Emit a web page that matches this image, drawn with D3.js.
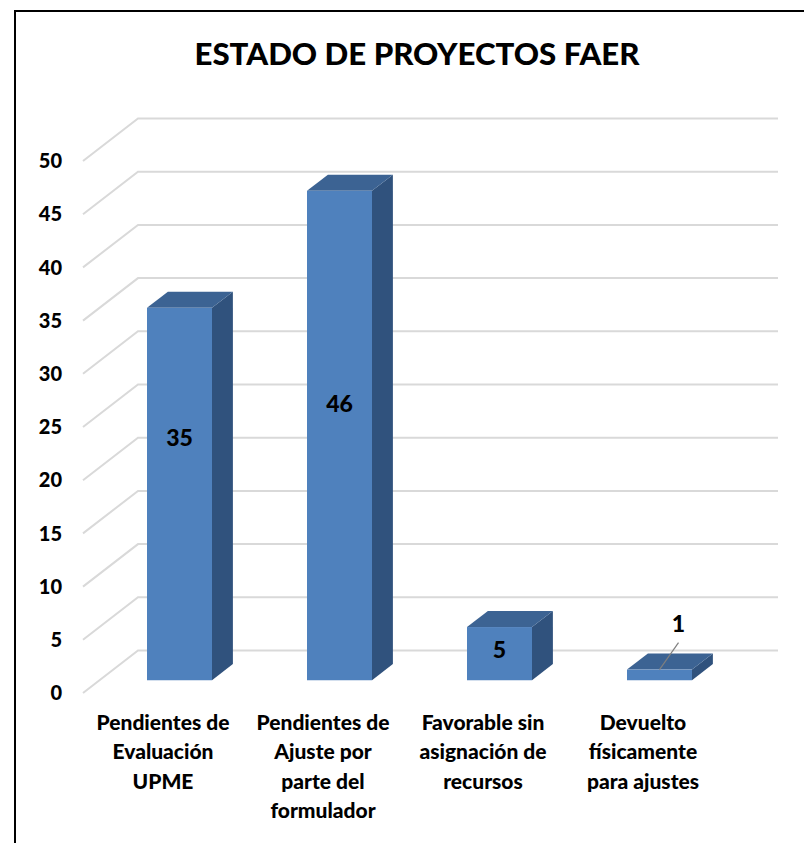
<!DOCTYPE html>
<html>
<head>
<meta charset="utf-8">
<script src="https://cdn.jsdelivr.net/npm/d3@7"></script>
<style>
  html, body { margin: 0; padding: 0; background: #ffffff; }
  svg { display: block; }
  text { font-family: Lato, "Open Sans", sans-serif; font-weight: 900; fill: #000; }
</style>
</head>
<body>
<svg id="chart" width="804" height="843"></svg>
<script>
// ---- data ----
const title = "ESTADO DE PROYECTOS FAER";
const categories = [
  ["Pendientes de", "Evaluación", "UPME"],
  ["Pendientes de", "Ajuste por", "parte del", "formulador"],
  ["Favorable sin", "asignación de", "recursos"],
  ["Devuelto", "físicamente", "para ajustes"]
];
const values = [35, 46, 5, 1];
const yTicks = [0, 5, 10, 15, 20, 25, 30, 35, 40, 45, 50];

// ---- style / layout ----
const labelRatio = [0.65, 0.565, 0.566, null]; // where the value label sits inside each bar
const colFront = "#4F81BD", colTop = "#3C6393", colSide = "#30527D";
const depthDX = 55, depthDY = -42.5;      // full floor depth projection
const barD0 = 0.3, barD1 = 0.68;          // bar front/back depth fraction

const svg = d3.select("#chart");

// border
svg.append("path")
  .attr("d", "M15,860 L15,11 L820,11")
  .attr("fill", "none").attr("stroke", "#000").attr("stroke-width", 2);

// title
svg.append("text")
  .attr("x", 417).attr("y", 65)
  .attr("text-anchor", "middle")
  .attr("font-size", 31)
  .attr("textLength", 445).attr("lengthAdjust", "spacingAndGlyphs")
  .text(title);

const keys = categories.map((c, i) => i);
const x = d3.scaleBand().domain(keys).range([83, 723]);
const y = d3.scaleLinear().domain([0, 50]).range([693, 161]);
const off = d => [depthDX * d, depthDY * d];

// gridlines (front-left diagonal + back wall)
const g = svg.append("g");
const [bx, by] = off(1);
g.selectAll("path.grid").data(yTicks).join("path")
  .attr("class", "grid")
  .attr("d", v => `M${x.range()[0]},${y(v)} L${x.range()[0] + bx},${y(v) + by} L${x.range()[1] + bx},${y(v) + by}`)
  .attr("fill", "none").attr("stroke", "#D9D9D9").attr("stroke-width", 2);

// y-axis labels
svg.append("g").selectAll("text").data(yTicks).join("text")
  .attr("x", 62).attr("y", v => y(v))
  .attr("dy", "0.36em")
  .attr("text-anchor", "end")
  .attr("font-size", 20)
  .text(d => d);

// bars
const barW = 65;
const [f0x, f0y] = off(barD0);
const [sdx, sdy] = off(barD1 - barD0);
const bars = svg.append("g").selectAll("g").data(values).join("g");
bars.each(function (v, i) {
  const sel = d3.select(this);
  const xl = x(i) + (x.bandwidth() - barW) / 2 + f0x;
  const xr = xl + barW;
  const yt = y(v) + f0y, yb = y(0) + f0y;
  // side
  sel.append("path")
    .attr("d", `M${xr},${yt} L${xr + sdx},${yt + sdy} L${xr + sdx},${yb + sdy} L${xr},${yb} Z`)
    .attr("fill", colSide);
  // top
  sel.append("path")
    .attr("d", `M${xl},${yt} L${xl + sdx},${yt + sdy} L${xr + sdx},${yt + sdy} L${xr},${yt} Z`)
    .attr("fill", colTop);
  // front
  sel.append("rect")
    .attr("x", xl).attr("y", yt).attr("width", barW).attr("height", yb - yt)
    .attr("fill", colFront);
  // value label
  const cx = (xl + xr) / 2;
  if (labelRatio[i] != null) {
    sel.append("text")
      .attr("x", cx).attr("y", yb - (yb - yt) * labelRatio[i])
      .attr("dy", "0.36em").attr("text-anchor", "middle")
      .attr("font-size", 23)
      .text(v);
  } else {
    sel.append("line")
      .attr("x1", cx).attr("y1", yt)
      .attr("x2", cx + 19).attr("y2", yt - 27)
      .attr("stroke", "#7F7F7F").attr("stroke-width", 1.2);
    sel.append("text")
      .attr("x", cx + 19).attr("y", yt - 46)
      .attr("dy", "0.36em").attr("text-anchor", "middle")
      .attr("font-size", 23)
      .text(v);
  }
});

// category labels
svg.append("g").selectAll("text").data(categories).join("text")
  .attr("x", (d, i) => x(i) + x.bandwidth() / 2)
  .attr("y", 730)
  .attr("text-anchor", "middle")
  .attr("font-size", 21)
  .each(function (lines) {
    const t = d3.select(this);
    lines.forEach((ln, k) => {
      t.append("tspan")
        .attr("x", t.attr("x"))
        .attr("dy", k === 0 ? 0 : 29.3)
        .text(ln);
    });
  });
</script>
</body>
</html>
